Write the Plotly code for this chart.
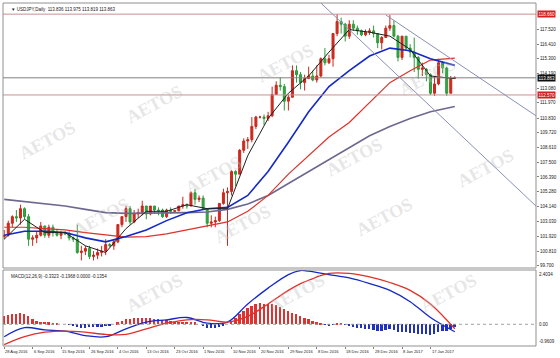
import plotly.graph_objects as go

# ---------------- data ----------------
opens = [101.9,102.0,102.9,103.4,103.3,104.0,103.4,101.7,101.8,102.0,102.7,102.0,102.6,102.2,102.0,102.2,102.1,101.8,101.7,100.7,
         100.8,101.0,100.4,100.5,100.7,100.8,101.3,101.2,101.5,102.8,103.4,104.0,103.0,103.6,103.7,104.2,103.6,104.2,103.9,103.9,
         103.4,103.9,103.8,103.85,104.2,104.3,104.2,105.2,104.7,104.8,104.0,102.9,103.0,103.1,104.4,105.2,105.3,106.8,106.6,108.4,
         109.1,109.2,110.2,110.9,110.9,110.8,111.0,112.6,113.3,113.2,112.1,112.4,114.4,114.1,113.5,113.8,114.0,113.7,114.0,115.3,
         115.0,115.3,117.2,118.1,117.9,117.0,117.9,117.6,117.4,117.1,117.3,117.4,117.2,116.5,116.9,117.6,117.8,117.0,115.4,117.0,
         116.1,115.8,115.4,114.5,114.5,114.1,112.7,113.4,115.0,114.6,112.7,113.836]
highs = [102.4,103.1,103.5,103.9,104.3,104.1,103.6,102.0,102.3,103.0,102.7,102.8,102.8,102.4,102.3,102.3,102.3,101.9,102.8,101.2,
         101.2,101.2,100.8,101.0,101.2,101.7,101.4,101.7,102.8,103.4,104.2,104.2,103.9,104.0,104.6,104.2,104.2,104.2,104.1,104.0,
         104.0,104.1,103.9,104.2,104.9,104.4,105.3,105.5,105.0,105.0,104.0,103.5,103.4,104.4,105.5,105.6,106.9,106.9,108.5,109.3,
         109.4,110.9,111.0,111.0,111.1,111.3,113.2,113.6,113.9,113.4,112.6,114.8,114.8,114.3,114.1,114.7,114.4,114.8,115.4,116.1,
         115.6,117.2,118.66,118.4,118.0,118.2,118.2,117.8,117.5,117.5,117.6,117.8,117.2,117.0,117.8,118.6,118.2,117.1,117.0,117.0,
         116.4,116.9,115.5,115.0,114.6,114.2,114.0,115.3,115.1,114.7,114.0,113.975]
lows = [101.7,101.9,102.6,103.0,102.8,103.2,101.2,101.2,101.4,101.9,101.8,101.8,101.9,101.9,101.7,102.0,101.6,101.5,100.6,100.1,
        100.5,100.2,100.1,100.2,100.4,100.5,101.1,100.9,101.4,102.6,103.0,102.8,102.9,103.3,103.5,103.2,103.5,103.6,103.5,103.3,
        103.3,103.6,103.7,103.8,104.0,104.0,104.2,104.3,104.5,104.0,102.6,102.6,102.6,103.0,104.3,101.2,105.0,105.7,106.6,108.2,
        108.5,109.0,110.0,110.8,110.3,110.6,110.9,112.6,112.9,111.4,111.4,112.4,113.5,113.0,112.9,113.8,113.6,113.5,113.9,114.8,
        114.9,114.7,117.0,117.2,116.6,116.8,117.4,117.1,117.0,117.0,117.1,116.9,116.1,116.0,116.9,117.4,116.9,115.1,115.2,115.9,
        115.4,114.3,113.8,114.0,113.6,112.57,112.5,113.3,114.2,112.5,112.7,113.819]
closes = [102.0,102.9,103.4,103.3,104.0,103.4,101.7,101.8,102.0,102.7,102.0,102.6,102.2,102.0,102.2,102.1,101.8,101.7,100.7,100.8,
          101.0,100.4,100.5,100.7,100.8,101.3,101.2,101.5,102.8,103.4,104.0,103.0,103.6,103.7,104.2,103.6,104.2,103.9,103.85,103.4,
          103.9,103.8,103.85,104.2,104.3,104.2,105.2,104.7,104.8,104.0,102.9,103.0,103.1,104.4,105.2,105.3,106.8,106.6,108.4,109.1,
          109.2,110.2,110.9,110.9,110.8,111.0,112.6,113.3,113.2,112.1,112.4,114.4,114.1,113.5,113.8,114.0,113.7,114.0,115.3,115.0,
          115.3,117.2,118.1,117.9,117.0,117.9,117.6,117.4,117.1,117.3,117.4,117.2,116.5,116.9,117.6,117.8,117.0,115.4,117.0,116.1,
          115.8,115.4,114.5,114.6,114.1,112.7,113.4,115.0,114.6,112.7,113.8,113.863]

ma_idx = [0,5,10,15,20,25,30,35,40,45,50,55,60,65,70,75,80,85,90,95,100,105,111]
ma_fast = [101.7,103.2,102.2,102.2,101.2,100.7,102.5,103.8,103.8,104.3,104.0,104.0,108.0,110.8,112.7,114.0,115.8,117.5,117.3,117.0,116.0,114.0,113.8]
ma_20 = [102.0,102.3,102.3,102.2,101.8,101.5,101.9,102.4,103.1,103.7,104.0,104.1,105.0,106.8,109.0,111.3,113.2,114.4,115.5,116.1,115.9,115.3,114.8]
ma_50 = [102.6,102.6,102.5,102.4,102.2,102.0,101.85,101.9,102.1,102.4,102.7,103.0,103.8,105.0,106.6,108.0,109.4,110.5,112.0,113.5,114.4,115.2,115.35]
ma_100 = [104.7,104.55,104.4,104.2,103.95,103.7,103.65,103.65,103.65,103.7,103.75,103.95,104.35,105.0,105.9,106.8,107.7,108.6,109.5,110.2,110.8,111.3,111.7]

macd_idx = [0,5,10,15,20,25,30,35,40,45,50,55,60,65,70,73,75,80,85,90,95,100,105,111]
macd_main = [-0.55,-0.15,-0.25,-0.3,-0.5,-0.55,-0.2,0.1,0.2,0.3,0.05,0.1,0.9,1.6,2.2,2.38,2.35,2.2,2.05,1.8,1.5,1.0,0.3,-0.3323]
macd_signal = [-0.9,-0.55,-0.35,-0.3,-0.35,-0.45,-0.45,-0.2,0.05,0.2,0.2,0.1,0.35,0.9,1.5,1.8,1.95,2.25,2.25,2.1,1.85,1.5,0.9,-0.1968]
macd_hist = [0.35,0.4,0.45,0.45,0.5,0.45,0.35,0.25,0.15,0.1,
             0.1,0.08,0.05,0.02,0.0,0.0,-0.02,-0.05,
             -0.12,-0.15,-0.15,-0.14,-0.12,-0.1,-0.1,-0.08,-0.05,0.0,
             0.08,0.15,0.22,0.25,0.28,0.3,0.3,0.3,0.28,0.25,0.22,0.2,0.17,0.15,0.12,0.1,0.1,0.1,0.12,
             0.08,0.0,-0.08,-0.15,-0.18,-0.18,-0.12,-0.06,0.0,
             0.15,0.3,0.45,0.6,0.72,0.82,0.9,0.95,0.92,0.88,0.88,0.85,0.78,0.68,0.6,0.52,0.45,0.38,0.3,0.22,
             0.15,0.08,0.02,-0.02,-0.05,-0.02,0.02,0.02,-0.03,-0.08,-0.12,-0.15,-0.18,-0.2,-0.22,-0.25,-0.28,-0.28,
             -0.25,-0.22,-0.25,-0.32,-0.32,-0.35,-0.38,-0.4,-0.42,-0.42,-0.45,-0.48,-0.42,-0.35,-0.28,-0.3,-0.22,-0.1354]

price_ticks = [117.52,116.41,115.30,114.19,113.08,111.97,110.83,109.72,108.61,107.50,106.39,105.28,104.14,103.03,101.92,100.81,99.70]
price_tick_text = ["117.520","116.410","115.300","114.190","113.080","111.970","110.830","109.720","108.610","107.500",
                   "106.390","105.280","104.140","103.030","101.920","100.810","99.700"]
date_ticks = [0,7,14,21,28,35,42,49,56,63,70,77,84,91,98,105]
date_text = ["28 Aug 2016","6 Sep 2016","15 Sep 2016","26 Sep 2016","4 Oct 2016","13 Oct 2016","23 Oct 2016","1 Nov 2016",
             "10 Nov 2016","20 Nov 2016","29 Nov 2016","8 Dec 2016","18 Dec 2016","28 Dec 2016","8 Jan 2017","17 Jan 2017"]
level_high = 118.66
level_low = 112.57
level_last = 113.863
chan1 = [(78, 119.5), (131, 104.2)]
chan2 = [(94, 118.6), (131, 111.0)]

# ---------------- figure ----------------
n = len(opens)
xs = list(range(n))
fig = go.Figure()

FONT = "Arial"
fig.add_trace(go.Candlestick(x=xs, open=opens, high=highs, low=lows, close=closes,
                             increasing=dict(line=dict(color="#c8281e", width=1), fillcolor="#d02a20"),
                             decreasing=dict(line=dict(color="#2c9a3c", width=1), fillcolor="#34a844"),
                             whiskerwidth=0, xaxis="x", yaxis="y", showlegend=False))
fig.add_trace(go.Scatter(x=ma_idx, y=ma_100, mode="lines", line=dict(color="#6e6890", width=1.6), yaxis="y", showlegend=False))
fig.add_trace(go.Scatter(x=ma_idx, y=ma_50, mode="lines", line=dict(color="#e0302a", width=1.2), yaxis="y", showlegend=False))
fig.add_trace(go.Scatter(x=ma_idx, y=ma_20, mode="lines", line=dict(color="#1428c8", width=1.6), yaxis="y", showlegend=False))
fig.add_trace(go.Scatter(x=ma_idx, y=ma_fast, mode="lines", line=dict(color="#202020", width=1), yaxis="y", showlegend=False))

for (p, c) in [(level_high, "#c89090"), (level_low, "#c89090"), (level_last, "#808080")]:
    fig.add_shape(type="line", xref="paper", x0=0, x1=1, yref="y", y0=p, y1=p, line=dict(color=c, width=1))
for ch in (chan1, chan2):
    fig.add_shape(type="line", xref="x", yref="y", x0=ch[0][0], y0=ch[0][1], x1=ch[1][0], y1=ch[1][1],
                  line=dict(color="#8890b8", width=1))

hist_colors = ["#e03030" if v >= 0 else "#2030c0" for v in macd_hist]
fig.add_trace(go.Bar(x=xs, y=macd_hist, marker=dict(color=hist_colors, line=dict(width=0)), width=0.45,
                     xaxis="x", yaxis="y2", showlegend=False))
fig.add_trace(go.Scatter(x=macd_idx, y=macd_main, mode="lines", line=dict(color="#1428c8", width=1.3, shape="spline"),
                         yaxis="y2", showlegend=False))
fig.add_trace(go.Scatter(x=macd_idx, y=macd_signal, mode="lines", line=dict(color="#e0302a", width=1.3, shape="spline"),
                         yaxis="y2", showlegend=False))
fig.add_shape(type="line", xref="paper", x0=0, x1=1, yref="y2", y0=0, y1=0, line=dict(color="#a0a0a0", width=1, dash="dot"))

# panel frames
main_bottom = (346 - 268) / 343
macd_top = (346 - 270) / 343
fig.add_shape(type="rect", xref="paper", yref="paper", x0=0, x1=1, y0=main_bottom, y1=1, line=dict(color="#909090", width=1))
fig.add_shape(type="rect", xref="paper", yref="paper", x0=0, x1=1, y0=0, y1=macd_top, line=dict(color="#909090", width=1))

# right-side value labels
def tag(p, txt, bg, yref="y"):
    fig.add_annotation(xref="paper", x=1.002, xanchor="left", yref=yref, y=p, text=txt, showarrow=False,
                       font=dict(size=4.5, color="white", family=FONT), bgcolor=bg, borderpad=0.5)
tag(level_high, "118.660", "#d02020")
tag(level_low, "112.570", "#d02020")
tag(level_last, "113.863", "#101010")

fig.add_annotation(xref="paper", x=0.012, xanchor="left", yref="paper", y=0.993, yanchor="top",
                   text="▼ USDJPY,Daily  113.836 113.975 113.819 113.863", showarrow=False,
                   font=dict(size=4.5, color="#202020", family=FONT))
fig.add_annotation(xref="paper", x=0.012, xanchor="left", yref="paper", y=macd_top - 0.005, yanchor="top",
                   text="MACD(12,26,9) -0.3323 -0.1968 0.0000 -0.1354", showarrow=False,
                   font=dict(size=4.5, color="#202020", family=FONT))
for (v, t, ya) in [(2.4034, "2.4034", "top"), (0, "0.00", "middle"), (-0.9609, "-0.9609", "bottom")]:
    fig.add_annotation(xref="paper", x=1.002, xanchor="left", yref="y2", y=v, yanchor=ya, text=t, showarrow=False,
                       font=dict(size=4.5, color="#202020", family=FONT))

# date labels (horizontal, starting at their bar)
for (dx, dt) in zip(date_ticks, date_text):
    fig.add_annotation(xref="x", x=dx - 0.2, xanchor="left", yref="paper", y=0, yanchor="top", yshift=-1,
                       text=dt, showarrow=False, font=dict(size=4, color="#202020", family=FONT))

# watermarks
wm = [(0.22, 0.78), (0.53, 0.9), (0.86, 0.86), (0.02, 0.6), (0.33, 0.5), (0.66, 0.55), (0.97, 0.52),
      (0.12, 0.3), (0.45, 0.28), (0.78, 0.3), (0.22, 0.08), (0.55, 0.08), (0.9, 0.08)]
for (wx, wy) in wm:
    fig.add_annotation(xref="paper", yref="paper", x=wx, y=wy, text="<b>AETOS</b>", showarrow=False, textangle=-28,
                       font=dict(size=18, color="rgba(190,190,190,0.38)", family="Arial Black"))

fig.update_layout(
    width=560, height=358, margin=dict(l=3, r=19, t=3, b=12),
    paper_bgcolor="white", plot_bgcolor="white", bargap=0,
    xaxis=dict(range=[-0.3, 131], anchor="y2", showgrid=False, zeroline=False, rangeslider=dict(visible=False),
               tickmode="array", tickvals=date_ticks, showticklabels=False, ticks="outside", ticklen=2,
               tickcolor="#808080"),
    yaxis=dict(domain=[main_bottom, 1], range=[99.53, 119.50], side="right", showgrid=False, zeroline=False,
               tickmode="array", tickvals=price_ticks, ticktext=price_tick_text, ticks="outside", ticklen=2,
               tickcolor="#808080", tickfont=dict(size=4.5, color="#202020", family=FONT)),
    yaxis2=dict(domain=[0, macd_top], range=[-0.9609, 2.4034], side="right", showgrid=False, zeroline=False,
                showticklabels=False, anchor="x"),
)
fig.write_html("out.html")
